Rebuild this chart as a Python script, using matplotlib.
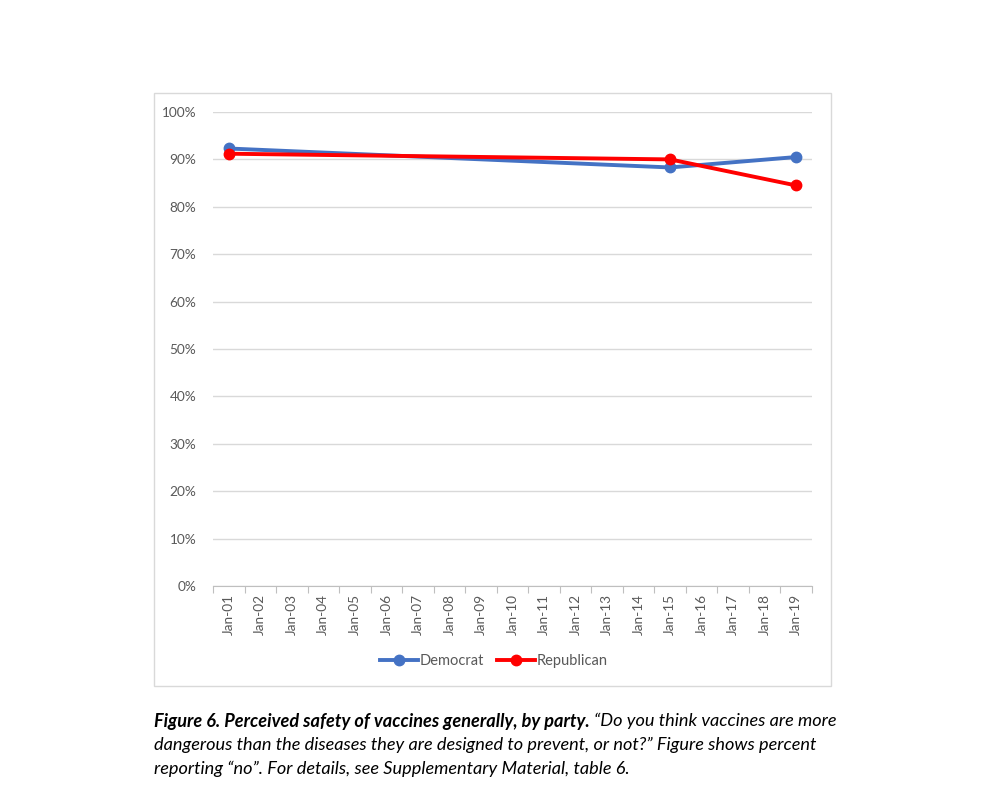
import matplotlib
matplotlib.use('Agg')
import matplotlib.pyplot as plt
from matplotlib.patches import Rectangle

plt.rcParams['font.family'] = ['Lato', 'DejaVu Sans']

categories = ['Jan-01', 'Jan-02', 'Jan-03', 'Jan-04', 'Jan-05', 'Jan-06', 'Jan-07',
              'Jan-08', 'Jan-09', 'Jan-10', 'Jan-11', 'Jan-12', 'Jan-13', 'Jan-14',
              'Jan-15', 'Jan-16', 'Jan-17', 'Jan-18', 'Jan-19']
survey_points = ['Jan-01', 'Jan-15', 'Jan-19']
democrat = [0.923, 0.883, 0.905]
republican = [0.912, 0.900, 0.845]
yticks = [0, 0.1, 0.2, 0.3, 0.4, 0.5, 0.6, 0.7, 0.8, 0.9, 1.0]

xpos = [categories.index(c) for c in survey_points]

fig = plt.figure(figsize=(10, 7.95), dpi=100)
fig.patches.append(Rectangle((0.154, 1 - 686 / 795), 0.677, (686 - 93) / 795,
                             transform=fig.transFigure, fill=False,
                             edgecolor='#d9d9d9', linewidth=1))

ax = fig.add_axes([0.213, 1 - 586 / 795, 0.599, (586 - 112) / 795])
ax.plot(xpos, democrat, color='#4472c4', lw=2.8, marker='o', ms=7.5, label='Democrat', zorder=3)
ax.plot(xpos, republican, color='#ff0000', lw=2.8, marker='o', ms=7.5, label='Republican', zorder=4)

ax.set_xlim(-0.5, len(categories) - 0.5)
ax.set_ylim(0, 1)
ax.set_yticks(yticks)
ax.set_yticklabels([f'{int(round(t * 100))}%' for t in yticks])
ax.set_xticks(range(len(categories)))
ax.set_xticklabels(categories, rotation=90)
ax.set_xticks([i - 0.5 for i in range(len(categories) + 1)], minor=True)
ax.tick_params(axis='x', which='major', length=0, pad=6, labelsize=9.8, labelcolor='#595959')
ax.tick_params(axis='x', which='minor', length=5, color='#bfbfbf', width=0.8)
ax.tick_params(axis='y', length=0, pad=12, labelsize=9.8, labelcolor='#595959')
ax.grid(axis='y', color='#d9d9d9', lw=1)
ax.set_axisbelow(True)
for s in ['top', 'right', 'left']:
    ax.spines[s].set_visible(False)
ax.spines['bottom'].set_color('#bfbfbf')

leg = ax.legend(loc='center', bbox_to_anchor=(0.494, 1 - 661 / 795),
                bbox_transform=fig.transFigure, ncol=2, frameon=False,
                fontsize=10.5, handlelength=2.6, columnspacing=0.9, handletextpad=0.1)
for t in leg.get_texts():
    t.set_color('#595959')

# caption
fig.canvas.draw()
r = fig.canvas.get_renderer()
bold = fig.text(0.154, 1 - 721 / 795, 'Figure 6. Perceived safety of vaccines generally, by party.',
                fontsize=13.1, style='italic', weight='bold', va='center')
bb = bold.get_window_extent(renderer=r)
fig.text(bb.x1 / fig.bbox.width + 0.004, 1 - 721 / 795,
         '\u201cDo you think vaccines are more', fontsize=13.1, style='italic', va='center')
fig.text(0.154, 1 - 745 / 795,
         'dangerous than the diseases they are designed to prevent, or not?\u201d Figure shows percent',
         fontsize=13.1, style='italic', va='center')
fig.text(0.154, 1 - 769 / 795,
         'reporting \u201cno\u201d. For details, see Supplementary Material, table 6.',
         fontsize=13.1, style='italic', va='center')

fig.savefig('out.png', dpi=100)
